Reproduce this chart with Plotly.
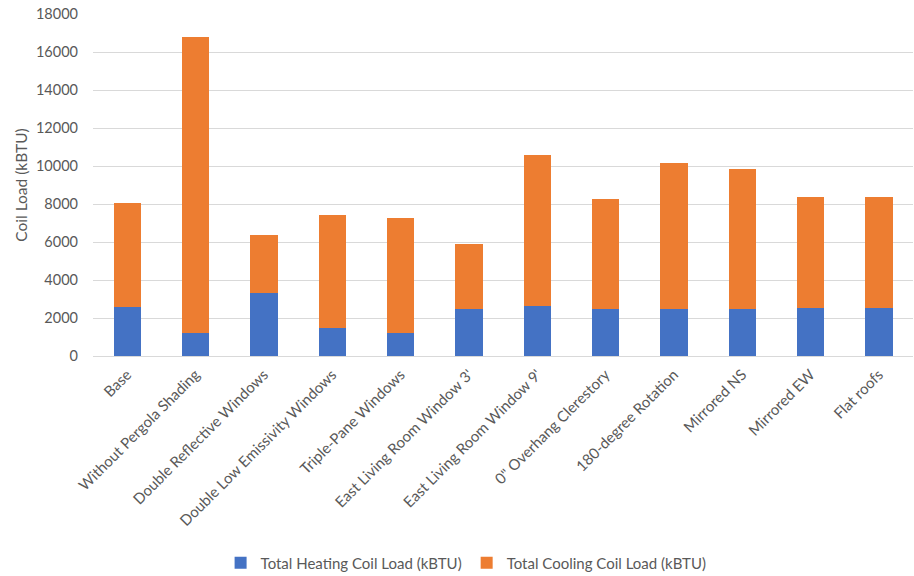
import plotly.graph_objects as go

categories = ["Base", "Without Pergola Shading", "Double Reflective Windows",
              "Double Low Emissivity Windows", "Triple-Pane Windows",
              "East Living Room Window 3'", "East Living Room Window 9'",
              "0\" Overhang Clerestory", "180-degree Rotation", "Mirrored NS",
              "Mirrored EW", "Flat roofs"]
heating = [2600, 1200, 3300, 1450, 1200, 2500, 2650, 2450, 2450, 2500, 2550, 2550]
total = [8050, 16800, 6350, 7400, 7250, 5870, 10600, 8270, 10150, 9850, 8350, 8350]
cooling = [t - h for t, h in zip(total, heating)]

font_family = "Lato, 'Open Sans', sans-serif"
gray = "#595959"

fig = go.Figure()
fig.add_trace(go.Bar(name="Total Heating Coil Load (kBTU)", x=categories, y=heating,
                     marker=dict(color="#4472C4", line=dict(width=0))))
fig.add_trace(go.Bar(name="Total Cooling Coil Load (kBTU)", x=categories, y=cooling,
                     marker=dict(color="#ED7D31", line=dict(width=0))))

fig.update_layout(
    barmode="stack",
    bargap=0.6,
    width=914, height=576,
    margin=dict(l=93, r=1, t=14, b=220, autoexpand=False),
    plot_bgcolor="white", paper_bgcolor="white",
    font=dict(family=font_family, color=gray, size=14),
    legend=dict(orientation="h", x=0.455, xanchor="center", y=-0.605, yanchor="middle",
                font=dict(size=15, color=gray), itemwidth=30, traceorder="normal"),
    xaxis=dict(tickangle=-45, tickfont=dict(size=15, color=gray), showgrid=False,
               showline=False, ticks="", ticklabelstandoff=6),
    yaxis=dict(range=[0, 18000], dtick=2000, tickformat="d", showgrid=True,
               gridcolor="#D9D9D9", gridwidth=1, zeroline=True, zerolinecolor="#D9D9D9",
               zerolinewidth=1, tickfont=dict(size=14.5, color=gray), ticklabelstandoff=14,
               title=dict(text="Coil Load (kBTU)", font=dict(size=15.5, color=gray), standoff=4)),
)

fig.write_html("out.html")
